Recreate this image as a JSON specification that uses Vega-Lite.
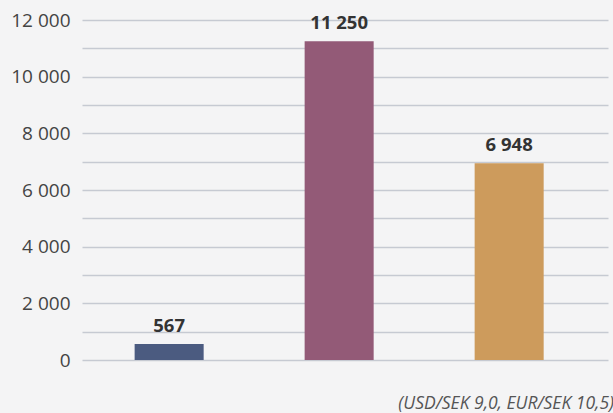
{
  "$schema": "https://vega.github.io/schema/vega-lite/v6.json",
  "width": 526,
  "height": 340,
  "autosize": {"type": "none"},
  "padding": {"left": 82, "top": 20, "right": 5, "bottom": 53},
  "background": "#f4f4f5",
  "data": {
    "values": [
      {"cat": "A", "value": 567},
      {"cat": "B", "value": 11250},
      {"cat": "C", "value": 6948}
    ]
  },
  "title": {
    "text": "(USD/SEK 9,0, EUR/SEK 10,5)",
    "orient": "bottom",
    "anchor": "end",
    "baseline": "top",
    "offset": 25,
    "dx": 6,
    "font": "Open Sans",
    "fontSize": 17.5,
    "fontStyle": "italic",
    "fontWeight": "normal",
    "color": "#555555"
  },
  "encoding": {
    "x": {
      "field": "cat",
      "type": "nominal",
      "axis": null,
      "scale": {"paddingInner": 0.594, "paddingOuter": 0.344, "align": 0.45}
    },
    "y": {
      "field": "value",
      "type": "quantitative",
      "title": null,
      "scale": {"domain": [0, 12000], "nice": false},
      "axis": {
        "values": [0, 1000, 2000, 3000, 4000, 5000, 6000, 7000, 8000, 9000, 10000, 11000, 12000],
        "labelExpr": "datum.value % 2000 == 0 ? replace(format(datum.value, ','), ',', ' ') : ''",
        "domain": false,
        "ticks": false,
        "labelPadding": 12,
        "labelFont": "Open Sans",
        "labelFontSize": 19,
        "labelColor": "#444444",
        "gridColor": "#c6cad2",
        "gridWidth": 1.5
      }
    }
  },
  "layer": [
    {
      "mark": {"type": "bar"},
      "encoding": {
        "color": {
          "field": "cat",
          "type": "nominal",
          "legend": null,
          "scale": {"range": ["#4b5b80", "#935a77", "#cd9b5c"]}
        }
      }
    },
    {
      "mark": {
        "type": "text",
        "baseline": "alphabetic",
        "dy": -12,
        "font": "Open Sans",
        "fontSize": 18.5,
        "fontWeight": "bold",
        "color": "#333333"
      },
      "encoding": {
        "text": {"field": "value", "type": "quantitative", "format": ",d"}
      }
    }
  ],
  "config": {
    "view": {"stroke": null},
    "locale": {
      "number": {"decimal": ",", "thousands": " ", "grouping": [3], "currency": ["", " kr"]}
    }
  }
}
